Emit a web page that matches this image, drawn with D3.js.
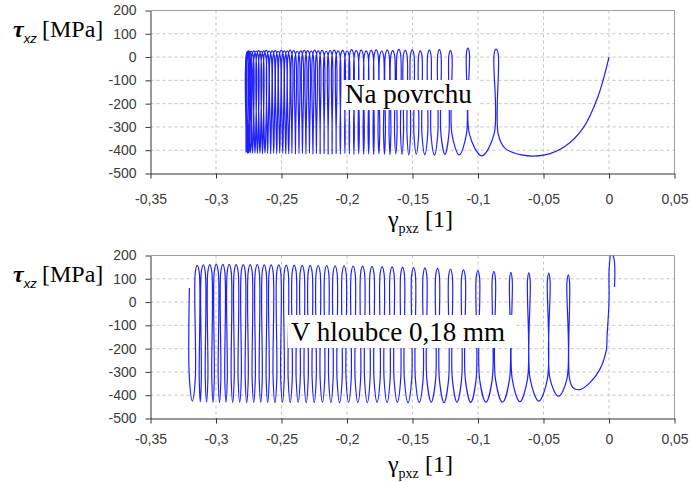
<!DOCTYPE html>
<html>
<head>
<meta charset="utf-8">
<script src="https://cdn.jsdelivr.net/npm/d3@7"></script>
<style>
    body { margin: 0; background: #fff; }
</style>
</head>
<body>
<div id="chart"></div>
<script>
// axis ticks (same for both panels)
const xTicks = [-0.35, -0.3, -0.25, -0.2, -0.15, -0.1, -0.05, 0, 0.05];
const yTicks = [200, 100, 0, -100, -200, -300, -400, -500];

// --- "Na povrchu" (surface) ---
// first loading branch
const surfLoadGamma = [0, -0.0084, -0.0198, -0.0338, -0.049, -0.0668, -0.0795];
const surfLoadTau = [0, -169, -305, -384, -420, -420, -391];
// per cycle: gamma of rising leg, gamma of falling leg, peak stress, trough stress after it
const surfUpGamma = [
    -0.0846, -0.1066, -0.1199, -0.1283, -0.1359, -0.1428, -0.1489, -0.1542, -0.1591, -0.1637,
    -0.1679, -0.1721, -0.1763, -0.1801, -0.1839, -0.1877, -0.1915, -0.1950, -0.1984, -0.2018,
    -0.2053, -0.2083, -0.2114, -0.2144, -0.2175, -0.2205, -0.2232, -0.2258, -0.2285, -0.2312,
    -0.2338, -0.2365, -0.2392, -0.2419, -0.2441, -0.2464, -0.2487, -0.2510, -0.2533, -0.2556,
    -0.2579, -0.2602, -0.2620, -0.2640, -0.2659, -0.2678, -0.2697, -0.2716, -0.2731, -0.2742,
    -0.2748, -0.2752
];
const surfDownGamma = [
    -0.0877, -0.1088, -0.1222, -0.1307, -0.1384, -0.1453, -0.1515, -0.1569, -0.1618, -0.1665,
    -0.1707, -0.1750, -0.1792, -0.1830, -0.1868, -0.1906, -0.1944, -0.1980, -0.2014, -0.2048,
    -0.2083, -0.2113, -0.2144, -0.2174, -0.2205, -0.2235, -0.2262, -0.2288, -0.2315, -0.2342,
    -0.2368, -0.2395, -0.2422, -0.2449, -0.2471, -0.2494, -0.2517, -0.2540, -0.2563, -0.2586,
    -0.2609, -0.2632, -0.2650, -0.2670, -0.2689, -0.2708, -0.2727, -0.2746, -0.2758, -0.2765,
    -0.2769, -0.2771
];
const surfPeakTau = [
    34, 38, 28, 32, 30, 27, 31, 29, 33, 28, 30, 26, 31, 29, 27, 30, 28, 32, 26, 29,
    27, 30, 28, 25, 29, 27, 30, 26, 28, 29, 27, 25, 28, 30, 26, 27, 29, 25, 28, 27,
    26, 29, 27, 25, 28, 26, 27, 25, 26, 27, 25, 24
];
const surfTroughTau = [
    -424, -420, -418, -421, -419, -417, -420, -418, -416, -419, -417, -415, -418, -416, -417, -415,
    -418, -416, -414, -417, -415, -416, -418, -414, -416, -415, -417, -413, -416, -414, -415, -417,
    -413, -415, -416, -414, -412, -415, -413, -416, -414, -412, -415, -413, -414, -412, -413, -411,
    -412, -413, -411, -410
];

// --- "V hloubce 0,18 mm" (depth) ---
const deepLoadGamma = [0.0042, 0.0040, 0.0018, 0.0002, 0.0, -0.0015, -0.0020, -0.0071, -0.0147, -0.0223, -0.0274];
const deepLoadTau = [65, 180, 215, 150, 0, -150, -204, -290, -347, -376, -368];
const deepUpGamma = [
    -0.0301, -0.0450, -0.0602, -0.0739, -0.0867, -0.0988, -0.1097, -0.1196, -0.1295, -0.1391,
    -0.1478, -0.1562, -0.1641, -0.1717, -0.1794, -0.1866, -0.1938, -0.2007, -0.2076, -0.2140,
    -0.2205, -0.2266, -0.2327, -0.2388, -0.2449, -0.2506, -0.2564, -0.2617, -0.2670, -0.2724,
    -0.2777, -0.2831, -0.2884, -0.2933, -0.2983, -0.3032, -0.3082, -0.3128, -0.3203
];
const deepDownGamma = [
    -0.0321, -0.0470, -0.0622, -0.0759, -0.0891, -0.1014, -0.1125, -0.1224, -0.1323, -0.1419,
    -0.1506, -0.1590, -0.1671, -0.1747, -0.1824, -0.1896, -0.1968, -0.2037, -0.2106, -0.2170,
    -0.2235, -0.2296, -0.2357, -0.2418, -0.2479, -0.2536, -0.2594, -0.2647, -0.2700, -0.2754,
    -0.2807, -0.2861, -0.2914, -0.2963, -0.3013, -0.3062, -0.3112, -0.3158
];
const deepPeakTau = [
    117, 124, 125, 128, 132, 135, 138, 142, 145, 147, 148, 150, 151, 152, 153, 154, 155, 156, 156, 157,
    157, 158, 158, 159, 159, 160, 160, 160, 161, 161, 161, 161, 162, 162, 162, 161, 160, 158, 60
];
const deepTroughTau = [
    -404, -425, -428, -430, -430, -431, -430, -432, -430, -431, -432, -430, -431, -430, -432, -431,
    -430, -432, -431, -430, -431, -432, -430, -431, -430, -432, -431, -430, -431, -432, -430, -431,
    -430, -431, -430, -429, -428, -425
];

const panels = [
    {
        label: 'Na povrchu', top: 10.5, bottom: 173.5, tickPad: 16,
        loadG: surfLoadGamma, loadT: surfLoadTau, up: surfUpGamma, down: surfDownGamma,
        peak: surfPeakTau, trough: surfTroughTau, knee: -330, cap: 20,
        box: { x: 342, y: 80, w: 137, h: 30 }, textX: 345, textY: 103
    },
    {
        label: 'V hloubce 0,18 mm', top: 255.5, bottom: 418.5, tickPad: 11,
        loadG: deepLoadGamma, loadT: deepLoadTau, up: deepUpGamma, down: deepDownGamma,
        peak: deepPeakTau, trough: deepTroughTau, knee: -330, cap: 30,
        box: { x: 288, y: 315, w: 227, h: 33 }, textX: 291, textY: 341
    }
];

const width = 690, height = 482;
const left = 150.5, right = 674.5;

const svg = d3.select('#chart').append('svg')
    .attr('width', width)
    .attr('height', height)
    .style('font-family', '"Liberation Sans", Arial, sans-serif');

const x = d3.scaleLinear().domain([-0.35, 0.05]).range([left, right]);
const fmt = d => String(d).replace('.', ',');

// build the loop points of one panel from its cycle arrays
function loopPoints(p) {
    const pts = p.loadG.map((g, i) => [g, p.loadT[i]]);
    p.up.forEach((u, i) => {
        const d = p.down[i];
        pts.push([u, p.knee]);
        if (d === undefined) {
            pts.push([u, p.peak[i]]);
            return;
        }
        pts.push([u, p.peak[i] - p.cap]);
        pts.push([(u + d) / 2, p.peak[i]]);
        pts.push([d, p.peak[i] - p.cap]);
        pts.push([d, p.knee]);
        const next = p.up[i + 1];
        pts.push([next === undefined ? d : (d + next) / 2, p.trough[i]]);
    });
    return pts;
}

panels.forEach((p, k) => {
    const y = d3.scaleLinear().domain([-500, 200]).range([p.bottom, p.top]);
    const g = svg.append('g');

    // grid
    g.selectAll('.vgrid').data(xTicks.slice(1, -1)).enter().append('line')
        .attr('x1', d => x(d)).attr('x2', d => x(d))
        .attr('y1', p.top).attr('y2', p.bottom)
        .attr('stroke', '#c4c4c4').attr('stroke-dasharray', '3,3');
    g.selectAll('.hgrid').data(yTicks.slice(1, -1)).enter().append('line')
        .attr('x1', left).attr('x2', right)
        .attr('y1', d => y(d)).attr('y2', d => y(d))
        .attr('stroke', '#c4c4c4').attr('stroke-dasharray', '3,3');

    // frame top / right
    g.append('path')
        .attr('d', `M${left},${p.top}H${right}V${p.bottom}`)
        .attr('fill', 'none').attr('stroke', '#a0a0a0');

    // curve
    const clipId = 'clip' + k;
    svg.append('clipPath').attr('id', clipId).append('rect')
        .attr('x', left).attr('y', p.top).attr('width', right - left).attr('height', p.bottom - p.top);

    const line = d3.line()
        .x(d => x(d[0]))
        .y(d => y(d[1]))
        .curve(d3.curveCatmullRom.alpha(0.5));

    g.append('path')
        .attr('clip-path', `url(#${clipId})`)
        .attr('d', line(loopPoints(p)))
        .attr('fill', 'none')
        .attr('stroke', '#1f1fff')
        .attr('stroke-width', 1.2);

    // axes
    const xAxis = g.append('g')
        .attr('transform', `translate(0,${p.bottom})`)
        .call(d3.axisBottom(x).tickValues(xTicks).tickFormat(fmt).tickSize(5).tickSizeOuter(0).tickPadding(p.tickPad));
    const yAxis = g.append('g')
        .attr('transform', `translate(${left},0)`)
        .call(d3.axisLeft(y).tickValues(yTicks).tickFormat(fmt).tickSize(5).tickSizeOuter(0).tickPadding(9));
    [xAxis, yAxis].forEach(a => {
        a.select('.domain').attr('stroke', '#333');
        a.selectAll('.tick line').attr('stroke', '#333');
        a.selectAll('text').attr('fill', '#3a3a3a')
            .style('font-family', '"Liberation Sans", Arial, sans-serif')
            .style('font-size', '14px');
    });

    // annotation
    g.append('rect')
        .attr('x', p.box.x).attr('y', p.box.y)
        .attr('width', p.box.w).attr('height', p.box.h)
        .attr('fill', '#fff');
    g.append('text')
        .attr('x', p.textX).attr('y', p.textY)
        .style('font-family', '"Liberation Serif", "Times New Roman", serif')
        .style('font-size', '27px')
        .attr('fill', '#000')
        .text(p.label);

    // y title
    const yt = g.append('text').attr('x', 13).attr('y', p.top + 26)
        .style('font-family', '"Liberation Serif", "Times New Roman", serif')
        .attr('fill', '#000');
    yt.append('tspan').style('font-size', '24px').style('font-weight', 'bold').style('font-style', 'italic').text('τ');
    yt.append('tspan').attr('dy', 6)
        .style('font-family', '"Liberation Sans", Arial, sans-serif')
        .style('font-size', '13px').style('font-style', 'italic').text('xz');
    yt.append('tspan').attr('x', 42).attr('dy', -6).style('font-size', '24px').text('[MPa]');

    // x title
    const xt = g.append('text').attr('x', 388).attr('y', p.bottom + 53)
        .style('font-family', '"Liberation Serif", "Times New Roman", serif')
        .attr('fill', '#000');
    xt.append('tspan').style('font-size', '24px').text('γ');
    xt.append('tspan').attr('dy', 6).style('font-size', '14px').text('pxz');
    xt.append('tspan').attr('x', 425).attr('dy', -6).style('font-size', '24px').text('[1]');
});
</script>
</body>
</html>
